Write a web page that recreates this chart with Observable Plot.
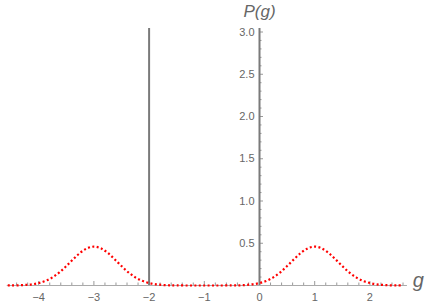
<!DOCTYPE html>
<html>
<head>
<meta charset="utf-8">
<script src="https://cdn.jsdelivr.net/npm/d3@7"></script>
<script src="https://cdn.jsdelivr.net/npm/@observablehq/plot@0.6"></script>
<style>
  html, body { margin: 0; padding: 0; background: #fff; }
  #chart svg { display: block; }
</style>
</head>
<body>
<div id="chart"></div>
<script>
// ---- data ----
const gVals = [-4.56, -4.5, -4.375, -4.25, -4.125, -4.0, -3.875, -3.75, -3.625, -3.5, -3.375, -3.25, -3.125, -3.0,
  -2.875, -2.75, -2.625, -2.5, -2.375, -2.25, -2.125, -2.0, -1.875, -1.75, -1.625, -1.5, -1.25, -1.0, -0.75,
  -0.5, -0.375, -0.25, -0.125, 0.0, 0.125, 0.25, 0.375, 0.5, 0.625, 0.75, 0.875, 1.0,
  1.125, 1.25, 1.375, 1.5, 1.625, 1.75, 1.875, 2.0, 2.125, 2.25, 2.375, 2.5, 2.56];
const pVals = [0.0005, 0.001, 0.002, 0.006, 0.014, 0.029, 0.055, 0.096, 0.155, 0.23, 0.311, 0.386, 0.44, 0.46,
  0.44, 0.386, 0.311, 0.23, 0.155, 0.096, 0.055, 0.029, 0.014, 0.006, 0.002, 0.001, 0.0, 0.0, 0.0,
  0.001, 0.002, 0.006, 0.014, 0.029, 0.055, 0.096, 0.155, 0.23, 0.311, 0.386, 0.44, 0.46,
  0.44, 0.386, 0.311, 0.23, 0.155, 0.096, 0.055, 0.029, 0.014, 0.006, 0.002, 0.001, 0.0005];
const spikeG = [-2, 0];        // delta spikes
const spikeTop = 3.04;         // spikes reach the top of the plot range
const xTicks = [-4, -3, -2, -1, 0, 1, 2];
const yTicks = [0.5, 1.0, 1.5, 2.0, 2.5, 3.0];
const xRange = [-4.57, 2.68];  // extent of the horizontal axis line
const yTop = 3.03;
const xLabel = "g";
const yLabel = "P(g)";

const curveData = gVals.map((g, i) => ({g, p: pVals[i]}));
const xMinor = d3.range(-4.4, 2.61, 0.2).map(v => +v.toFixed(2)).filter(v => !xTicks.some(t => Math.abs(t - v) < 1e-6));
const yMinor = d3.range(0.1, 3.01, 0.1).map(v => +v.toFixed(2)).filter(v => !yTicks.some(t => Math.abs(t - v) < 1e-6));

const font = "'Liberation Sans', Arial, sans-serif";
const tickColor = "#999";
const labelColor = "#666";

const chart = Plot.plot({
  width: 429,
  height: 305,
  margin: 0,
  style: {background: "#fff", fontFamily: font, overflow: "visible"},
  x: {domain: [-4.5, 2.5], range: [10.6, 397], axis: null},
  y: {domain: [0, 3], range: [285, 31.5], axis: null},
  marks: [
    // horizontal axis line
    Plot.ruleY([0], {x1: xRange[0], x2: xRange[1], stroke: "#aaa", strokeWidth: 1}),
    // vertical axis line
    Plot.ruleX([0], {y1: 0, y2: yTop, stroke: "#999", strokeWidth: 1}),
    // x ticks
    Plot.ruleX(xTicks, {x: d => d, y1: 0, y2: 0, insetTop: -4, insetBottom: 0, stroke: tickColor, strokeWidth: 1}),
    Plot.ruleX(xMinor, {x: d => d, y1: 0, y2: 0, insetTop: -2.5, insetBottom: 0, stroke: tickColor, strokeWidth: 1}),
    // y ticks
    Plot.ruleY(yTicks, {y: d => d, x1: 0, x2: 0, insetRight: -4, insetLeft: 0, stroke: tickColor, strokeWidth: 1}),
    Plot.ruleY(yMinor, {y: d => d, x1: 0, x2: 0, insetRight: -2.5, insetLeft: 0, stroke: tickColor, strokeWidth: 1}),
    // tick labels
    Plot.text(xTicks, {x: d => d, y: 0, dy: 12, text: d => d3.format("")(d).replace("-", "\u2212"),
      fill: labelColor, fontSize: 11, fontFamily: font, textAnchor: "middle"}),
    Plot.text(yTicks, {x: 0, y: d => d, dx: -5, text: d => d.toFixed(1),
      fill: labelColor, fontSize: 11, fontFamily: font, textAnchor: "end"}),
    // delta spikes
    Plot.ruleX(spikeG, {x: d => d, y1: 0, y2: spikeTop, stroke: "#7a7a7a", strokeWidth: 2}),
    // density curve
    Plot.line(curveData, {x: "g", y: "p", stroke: "#f00", strokeWidth: 2.2, strokeDasharray: "2,2.4",
      strokeLinecap: "butt", curve: "catmull-rom"}),
    // axis labels
    Plot.text([yLabel], {x: () => 0, y: () => 3, dy: -20.5, text: d => d, fill: labelColor,
      fontSize: 17, fontStyle: "italic", fontFamily: font, textAnchor: "middle"}),
    Plot.text([xLabel], {x: () => xRange[1], y: () => 0, dx: 11, dy: -4.5, text: d => d, fill: labelColor,
      fontSize: 20, fontStyle: "italic", fontFamily: font, textAnchor: "middle"})
  ]
});
document.getElementById("chart").appendChild(chart);
</script>
</body>
</html>
